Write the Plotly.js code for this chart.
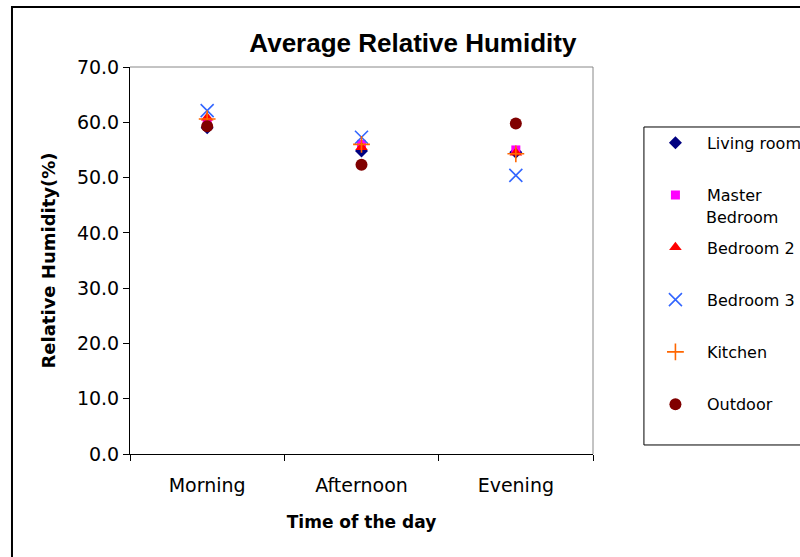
<!DOCTYPE html>
<html>
<head>
<meta charset="utf-8">
<script src="https://cdn.plot.ly/plotly-3.0.1.min.js"></script>
<style>html,body{margin:0;padding:0;background:#fff;}#chart{width:800px;height:557px;}</style>
</head>
<body>
<div id="chart"></div>
<script>
const categories = ["Morning", "Afternoon", "Evening"];
const livingRoom    = [59.0, 54.8, 54.6];
const masterBedroom = [60.0, 56.0, 55.0];
const bedroom2      = [60.8, 55.5, 54.5];
const bedroom3      = [62.1, 57.3, 50.4];
const kitchen       = [60.6, 56.0, 54.3];
const outdoor       = [59.3, 52.3, 59.8];
const yTicks = [0, 10, 20, 30, 40, 50, 60, 70];

const FONT = "DejaVu Sans, sans-serif";
const TFONT = "Liberation Sans, Arial, sans-serif";

function tr(name, y, symbol, color, size, lw) {
  const m = {symbol: symbol, color: color, size: size};
  if (lw) m.line = {color: color, width: lw};
  return {x: categories, y: y, name: name, type: "scatter", mode: "markers", marker: m, legendgroup: name};
}

const data = [
  tr("Living room", livingRoom, "diamond", "#000080", 10),
  tr("Master", masterBedroom, "square", "#FF00FF", 9),
  tr("Bedroom 2", bedroom2, "triangle-up", "#FF0000", 11),
  tr("Bedroom 3", bedroom3, "x-thin-open", "#3366FF", 13, 1.6),
  tr("Kitchen", kitchen, "cross-thin-open", "#FF6600", 12, 1.6),
  tr("Outdoor", outdoor, "circle", "#800000", 12)
];

const layout = {
  width: 800, height: 557,
  margin: {l: 130, r: 207, t: 67, b: 103, autoexpand: false},
  paper_bgcolor: "#fff", plot_bgcolor: "#fff",
  font: {family: FONT, size: 19, color: "#000"},
  title: {text: "<b>Average Relative Humidity</b>", font: {family: TFONT, size: 26, color: "#000"},
          xref: "paper", x: 0.611, xanchor: "center", yref: "container", y: 0.923, yanchor: "middle"},
  xaxis: {
    type: "category", range: [-0.5, 2.5], tickson: "boundaries",
    ticks: "outside", ticklen: 6, tickcolor: "#000", tickwidth: 1, ticklabelstandoff: 14,
    showline: true, linecolor: "#000", linewidth: 1, showgrid: false, zeroline: false,
    tickfont: {family: FONT, size: 19}, fixedrange: true,
    title: {text: "<b>Time of the day</b>", font: {family: FONT, size: 17}, standoff: 21}
  },
  yaxis: {
    range: [0, 70], tickvals: yTicks, tickformat: ".1f",
    ticks: "outside", ticklen: 6, tickcolor: "#000", tickwidth: 1,
    showline: true, linecolor: "#000", linewidth: 1, showgrid: false, zeroline: false,
    tickfont: {family: FONT, size: 19}, fixedrange: true,
    title: {text: "<b>Relative Humidity(%)</b>", font: {family: FONT, size: 18}, standoff: 16}
  },
  showlegend: true,
  legend: {
    x: 1.110, xanchor: "left", y: 0.848, yanchor: "top",
    bgcolor: "rgba(0,0,0,0)", borderwidth: 0, itemwidth: 53,
    font: {family: FONT, size: 16, color: "#000"},
    tracegroupgap: 28.5, itemclick: false, itemdoubleclick: false
  },
  shapes: [
    {type: "line", xref: "paper", yref: "paper", x0: 0, x1: 1, y0: 1, y1: 1, line: {color: "#888", width: 1}},
    {type: "line", xref: "paper", yref: "paper", x0: 1, x1: 1, y0: 0, y1: 1, line: {color: "#888", width: 1}},
    {type: "rect", xref: "paper", yref: "paper", x0: 1.110, x1: 1.46, y0: 0.0233, y1: 0.845, line: {color: "#000", width: 1}},
    {type: "rect", xref: "paper", yref: "paper", x0: -0.2549, x1: 1.46, y0: -0.28, y1: 1.155, line: {color: "#000", width: 2}}
  ],
  annotations: [
    {text: "Bedroom", xref: "paper", yref: "paper", x: 1.2397, y: 0.6124, xanchor: "left", yanchor: "middle",
     showarrow: false, font: {family: FONT, size: 16, color: "#000"}}
  ]
};

Plotly.newPlot("chart", data, layout, {displayModeBar: false, staticPlot: true});
</script>
</body>
</html>
